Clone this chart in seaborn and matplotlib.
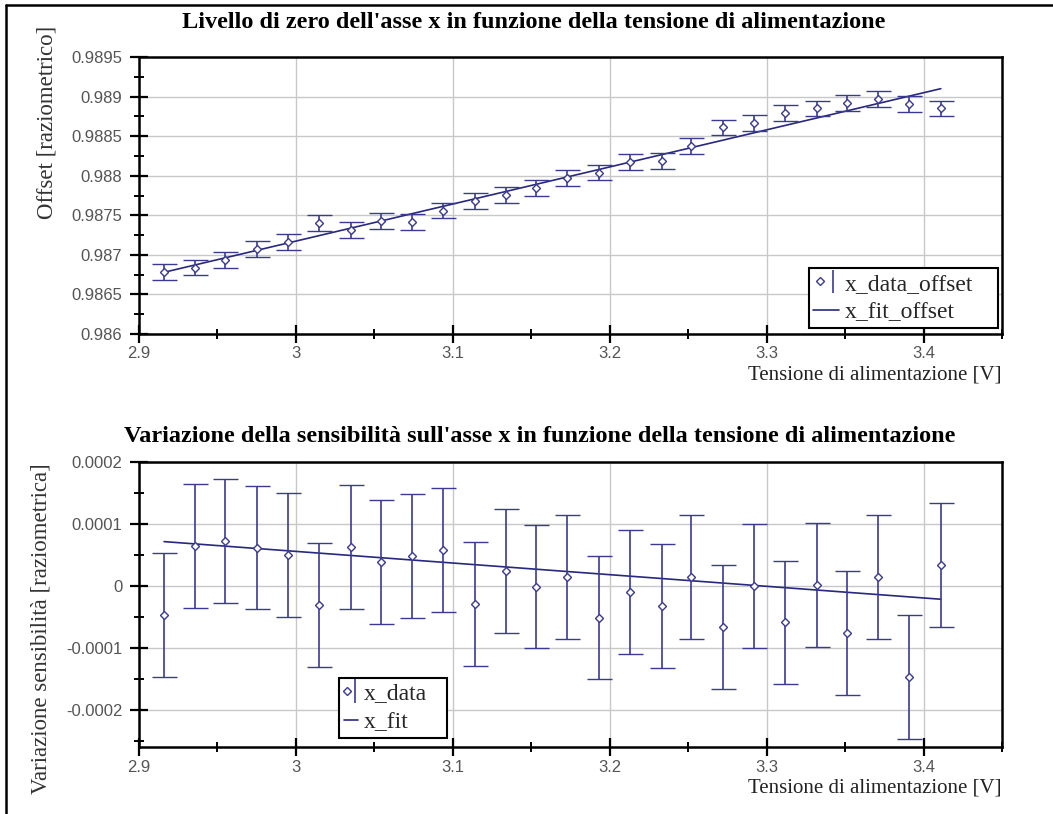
import matplotlib
matplotlib.use("Agg")
import matplotlib.pyplot as plt
from matplotlib.lines import Line2D
from matplotlib.legend_handler import HandlerTuple
from matplotlib.ticker import MultipleLocator, FuncFormatter
import seaborn as sns

# Supply voltage of each measurement [V]
supply_v = [2.916, 2.936, 2.955, 2.975, 2.995, 3.015, 3.035, 3.054, 3.074,
            3.094, 3.114, 3.134, 3.153, 3.173, 3.193, 3.213, 3.233, 3.252,
            3.272, 3.292, 3.312, 3.332, 3.351, 3.371, 3.391, 3.411]

# Zero level (offset) of the x axis, ratiometric
x_data_offset = [0.98678, 0.98684, 0.98693, 0.98707, 0.98716, 0.98740,
                 0.98731, 0.98743, 0.98742, 0.98756, 0.98768, 0.98776,
                 0.98785, 0.98797, 0.98804, 0.98817, 0.98819, 0.98838,
                 0.98861, 0.98867, 0.98879, 0.98885, 0.98892, 0.98897,
                 0.98891, 0.98885]
offset_err = 0.0001
# Linear fit evaluated at the first and last supply voltage
x_fit_offset = [0.98678, 0.98910]

# Sensitivity variation on the x axis, ratiometric
x_data = [-4.7e-5, 6.4e-5, 7.2e-5, 6.2e-5, 5.0e-5, -3.1e-5, 6.3e-5, 3.8e-5,
          4.8e-5, 5.8e-5, -2.9e-5, 2.4e-5, -0.1e-5, 1.5e-5, -5.1e-5, -1.0e-5,
          -3.2e-5, 1.4e-5, -6.7e-5, 0.0, -5.9e-5, 0.2e-5, -7.6e-5, 1.5e-5,
          -14.7e-5, 3.4e-5]
sens_err = 0.0001
x_fit = [7.15e-5, -2.15e-5]

DATA_COLOR = "#3a3a93"
FIT_COLOR = "#28287f"
SERIF = "Liberation Serif"

sns.set_theme(style="white")
plt.rcParams["font.family"] = ["Liberation Sans", "DejaVu Sans"]

W, H = 1053, 814
fig = plt.figure(figsize=(W / 100, H / 100), dpi=100)
fig.patch.set_facecolor("white")

ax1 = fig.add_axes([139 / W, 1 - 334 / H, 863 / W, 277 / H])
ax2 = fig.add_axes([139 / W, 1 - 747 / H, 863 / W, 285 / H])


def fmt(ndig):
    return FuncFormatter(lambda v, p: f"{round(v, ndig):g}")


def style_axes(ax, ymajor, yminor, ndig):
    ax.set_facecolor("white")
    for s in ax.spines.values():
        s.set_visible(True)
        s.set_linewidth(1.8)
        s.set_color("black")
    ax.set_xlim(2.9, 3.45)
    ax.xaxis.set_major_locator(MultipleLocator(0.1))
    ax.xaxis.set_minor_locator(MultipleLocator(0.05))
    ax.xaxis.set_major_formatter(fmt(4))
    ax.yaxis.set_major_locator(MultipleLocator(ymajor))
    ax.yaxis.set_minor_locator(MultipleLocator(yminor))
    ax.yaxis.set_major_formatter(fmt(ndig))
    ax.grid(True, which="major", color="#c8c8c8", linewidth=1.0)
    ax.set_axisbelow(True)
    ax.tick_params(which="major", direction="inout", length=13, width=1.6,
                   color="black", labelcolor="#555555", labelsize=12,
                   left=True, bottom=True, top=False, right=False)
    ax.tick_params(which="minor", direction="inout", length=6.5, width=1.4,
                   color="black", left=True, bottom=True, top=False, right=False)
    ax.tick_params(axis="y", which="major", pad=5.5)
    ax.tick_params(axis="x", which="major", pad=2.5)
    ax.set_xlabel("Tensione di alimentazione [V]", loc="right",
                  fontfamily=SERIF, fontsize=15, color="#222222", labelpad=3)


def draw_panel(ax, yvals, yerr, fit, fit_label):
    ax.errorbar(supply_v, yvals, yerr=yerr, fmt="D", ms=4.2,
                mfc="white", mec=DATA_COLOR, mew=1.0, color=DATA_COLOR,
                ecolor=DATA_COLOR, elinewidth=1.2, capsize=9,
                capthick=1.3, zorder=3)
    sns.lineplot(x=[supply_v[0], supply_v[-1]], y=fit, ax=ax,
                 color=FIT_COLOR, linewidth=1.2, zorder=2, label=fit_label)
    fit_line = ax.get_lines()[-1]
    # legend glyph: open diamond followed by a capped error bar
    marker_proxy = Line2D([], [], ls="none", marker="D", ms=4.2, mfc="white",
                          mec=DATA_COLOR, mew=1.0)
    bar_proxy = ax.errorbar([], [], yerr=[], fmt="none", ecolor=DATA_COLOR,
                            elinewidth=1.2, capsize=3, capthick=1.2)
    return (marker_proxy, bar_proxy), fit_line


def add_legend(ax, handles, labels, box, hlen):
    leg = ax.legend(handles, labels, loc="lower left", bbox_to_anchor=box,
                    mode="expand",
                    handler_map={tuple: HandlerTuple(ndivide=None, pad=0.0)},
                    prop={"family": SERIF, "size": 17}, frameon=True,
                    fancybox=False, edgecolor="black", framealpha=1,
                    borderpad=0.2, handlelength=hlen, handletextpad=0.25,
                    labelspacing=0.3, borderaxespad=0)
    leg.get_frame().set_linewidth(1.5)
    return leg


# Upper panel: offset
style_axes(ax1, 0.0005, 0.00025, 5)
ax1.set_ylim(0.986, 0.9895)
h_data1, h_fit1 = draw_panel(ax1, x_data_offset, offset_err, x_fit_offset,
                             "x_fit_offset")
add_legend(ax1, [h_data1, h_fit1], ["x_data_offset", "x_fit_offset"],
           (0.776, 0.022, 0.219, 0.2), 1.1)
ax1.set_ylabel("Offset [raziometrico]", fontfamily=SERIF, fontsize=16.5,
               color="#333333")
ax1.yaxis.set_label_coords(-0.094, 0.765)

# Lower panel: sensitivity variation
style_axes(ax2, 0.0001, 0.00005, 6)
ax2.set_ylim(-0.00026, 0.0002)
h_data2, h_fit2 = draw_panel(ax2, x_data, sens_err, x_fit, "x_fit")
add_legend(ax2, [h_data2, h_fit2], ["x_data", "x_fit"],
           (0.232, 0.032, 0.125, 0.2), 0.6)
ax2.set_ylabel("Variazione sensibilità [raziometrica]", fontfamily=SERIF,
               fontsize=16.5, color="#333333")
ax2.yaxis.set_label_coords(-0.101, 0.414)

# Panel titles
fig.text(534 / W, 1 - 22 / H,
         "Livello di zero dell'asse x in funzione della tensione di alimentazione",
         ha="center", va="center", fontfamily=SERIF, fontweight="bold",
         fontsize=17.5, color="black")
fig.text(540 / W, 1 - 437 / H,
         "Variazione della sensibilità sull'asse x in funzione della tensione di alimentazione",
         ha="center", va="center", fontfamily=SERIF, fontweight="bold",
         fontsize=17.5, color="black")

# Outer frame of the sheet
fig.add_artist(Line2D([6 / W, 1], [1 - 5 / H, 1 - 5 / H], color="black",
                      linewidth=1.8, transform=fig.transFigure))
fig.add_artist(Line2D([6 / W, 6 / W], [0, 1 - 5 / H], color="black",
                      linewidth=1.8, transform=fig.transFigure))

fig.savefig("out.png", dpi=100, facecolor="white")
